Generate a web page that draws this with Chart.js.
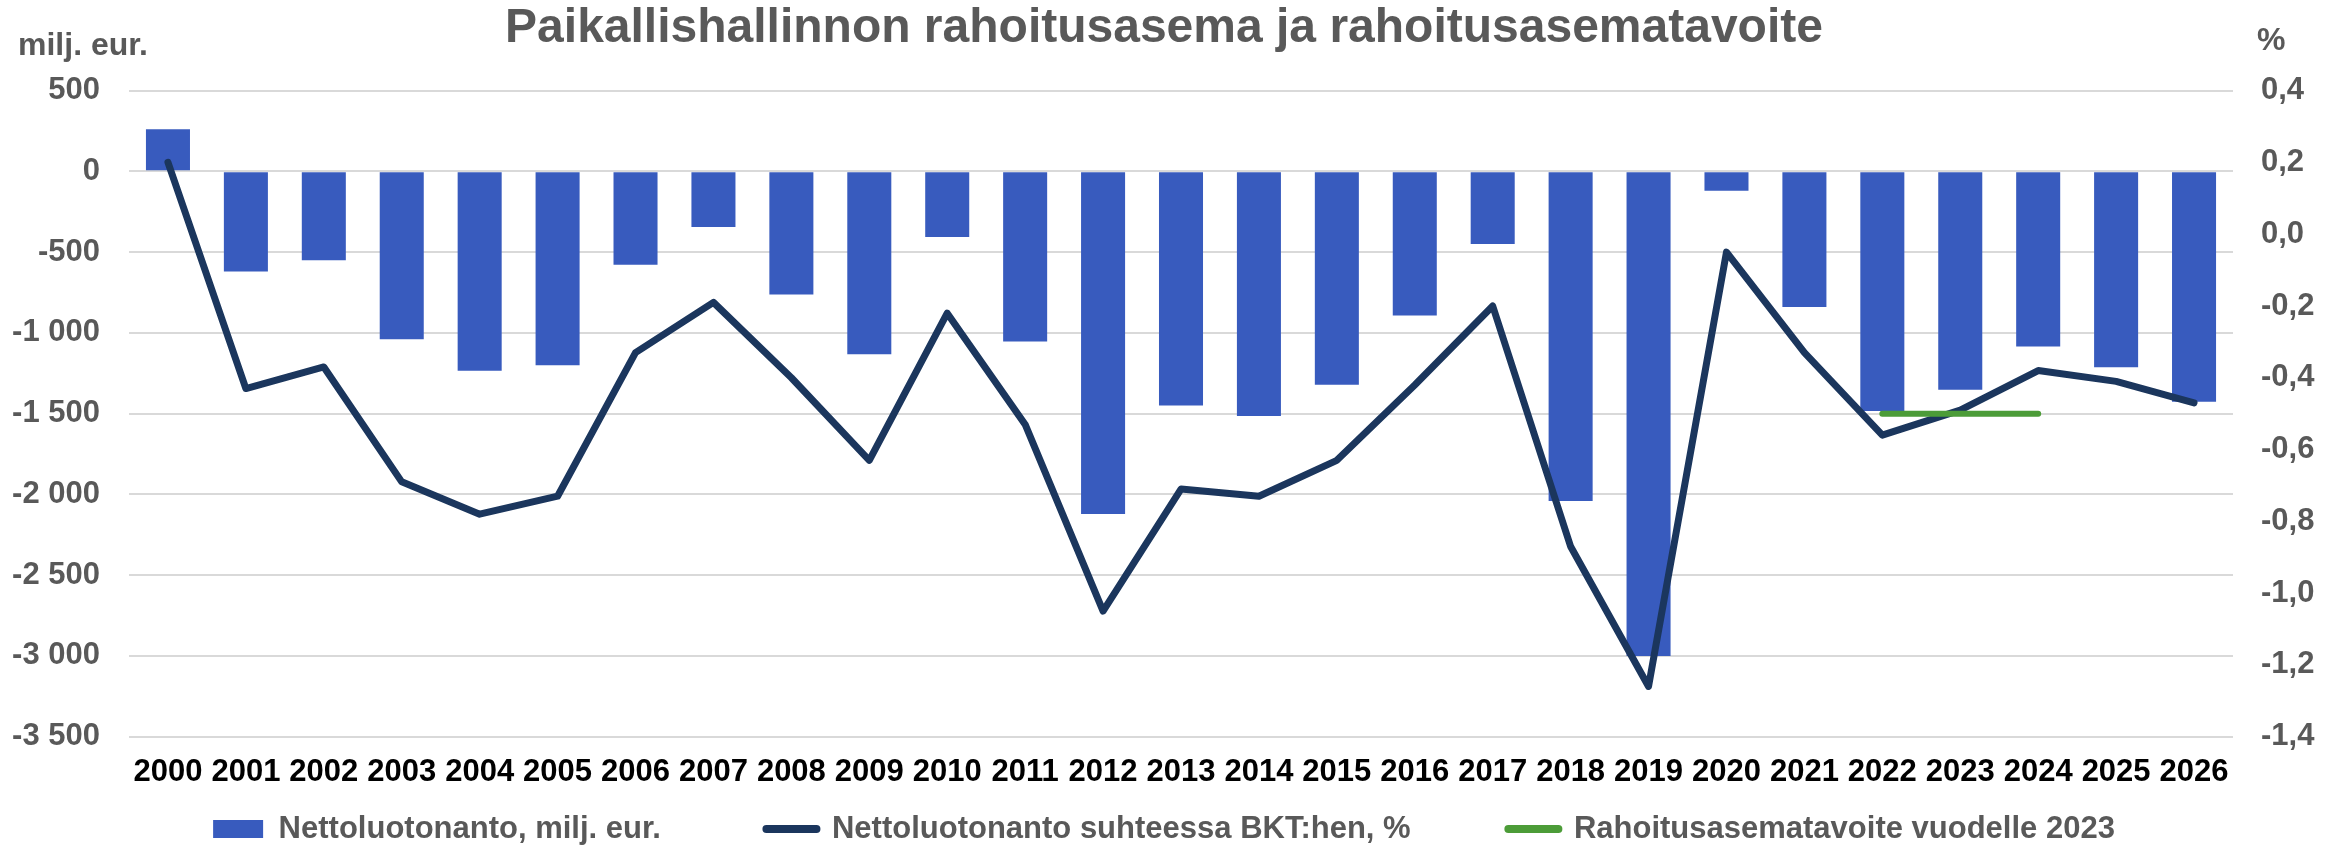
<!DOCTYPE html>
<html>
<head>
<meta charset="utf-8">
<script src="https://cdn.jsdelivr.net/npm/chart.js@4.4.1/dist/chart.umd.min.js"></script>
<style>
  html, body { margin: 0; padding: 0; background: #fff; }
  #wrap { width: 2344px; height: 846px; }
</style>
</head>
<body>
<div id="wrap"><canvas id="chart" width="2344" height="846"></canvas></div>
<script>
// Data
var years = ['2000', '2001', '2002', '2003', '2004', '2005', '2006', '2007', '2008', '2009',
             '2010', '2011', '2012', '2013', '2014', '2015', '2016', '2017', '2018', '2019',
             '2020', '2021', '2022', '2023', '2024', '2025', '2026'];

// Nettoluotonanto, milj. eur. (left axis)
var netLending = [260, -620, -550, -1040, -1235, -1200, -578, -345, -762, -1133,
                  -406, -1054, -2122, -1450, -1515, -1321, -893, -450, -2041, -3000,
                  -120, -840, -1484, -1352, -1085, -1213, -1426];

// Nettoluotonanto suhteessa BKT:hen, % (right axis)
var netLendingPct = [0.20, -0.43, -0.37, -0.69, -0.78, -0.73, -0.33, -0.19, -0.40, -0.63,
                     -0.22, -0.53, -1.05, -0.71, -0.73, -0.63, -0.42, -0.20, -0.87, -1.26,
                     -0.05, -0.33, -0.56, -0.49, -0.38, -0.41, -0.47];

// Rahoitusasematavoite vuodelle 2023 (right axis)
var target = [null, null, null, null, null, null, null, null, null, null,
              null, null, null, null, null, null, null, null, null, null,
              null, null, -0.5, -0.5, -0.5, null, null];

var titleText = 'Paikallishallinnon rahoitusasema ja rahoitusasematavoite';
var leftUnit = 'milj. eur.';
var rightUnit = '%';

var FONT = "'Liberation Sans', Arial, sans-serif";
var GREY = '#595959';
var BLUE = '#385bbe';
var NAVY = '#1b365d';
var GREEN = '#4c9c38';

// extra room after each legend entry (Chart.js only has one padding for both directions)
var legendGaps = ['\u2003\u2003\u2002', '\u2003\u2003\u2005', ''];

function fmtThousands(v) {
    var s = Math.abs(v).toString().replace(/\B(?=(\d{3})+(?!\d))/g, ' ');
    return (v < 0 ? '-' : '') + s;
}

function fmtPct(v) {
    if (Math.abs(v) < 1e-9) v = 0;
    return v.toFixed(1).replace('.', ',');
}

// draws the small unit captions above both value axes
var unitLabels = {
    id: 'unitLabels',
    afterDraw: function(chart) {
        var ctx = chart.ctx;
        ctx.save();
        ctx.font = 'bold 32px ' + FONT;
        ctx.fillStyle = GREY;
        ctx.textAlign = 'left';
        ctx.textBaseline = 'alphabetic';
        ctx.fillText(leftUnit, 18, 55);
        ctx.fillText(rightUnit, chart.scales.y1.left + 24, 50);
        ctx.restore();
    }
};

var tickFont = { family: FONT, size: 31, weight: 'bold' };

new Chart(document.getElementById('chart').getContext('2d'), {
    data: {
        labels: years,
        datasets: [{
            type: 'bar',
            label: 'Nettoluotonanto, milj. eur.',
            data: netLending,
            backgroundColor: BLUE,
            borderColor: BLUE,
            borderWidth: 0,
            categoryPercentage: 1,
            barPercentage: 0.565,
            yAxisID: 'y',
            order: 3
        }, {
            type: 'line',
            label: 'Nettoluotonanto suhteessa BKT:hen, %',
            data: netLendingPct,
            borderColor: NAVY,
            backgroundColor: NAVY,
            borderWidth: 7,
            borderJoinStyle: 'round',
            borderCapStyle: 'round',
            pointRadius: 0,
            tension: 0,
            yAxisID: 'y1',
            order: 2
        }, {
            type: 'line',
            label: 'Rahoitusasematavoite vuodelle 2023',
            data: target,
            borderColor: GREEN,
            backgroundColor: GREEN,
            borderWidth: 6,
            borderCapStyle: 'round',
            pointRadius: 0,
            tension: 0,
            spanGaps: false,
            yAxisID: 'y1',
            order: 1
        }]
    },
    options: {
        responsive: false,
        animation: false,
        devicePixelRatio: 1,
        layout: {
            padding: { top: 0, left: 0, right: 16, bottom: -8.5 }
        },
        plugins: {
            title: {
                display: true,
                text: titleText,
                color: GREY,
                font: { family: FONT, size: 48, weight: 'bold' },
                padding: { top: 0, bottom: 33 }
            },
            legend: {
                position: 'bottom',
                labels: {
                    usePointStyle: true,
                    pointStyleWidth: 50,
                    boxHeight: 18,
                    padding: 28,
                    color: GREY,
                    font: { family: FONT, size: 31, weight: 'bold' },
                    generateLabels: function(chart) {
                        return chart.data.datasets.map(function(ds, i) {
                            var isBar = ds.type === 'bar';
                            return {
                                text: ds.label + legendGaps[i],
                                datasetIndex: i,
                                fillStyle: ds.backgroundColor,
                                strokeStyle: ds.borderColor,
                                lineWidth: isBar ? 0 : 8,
                                lineCap: 'round',
                                pointStyle: isBar ? 'rect' : 'line',
                                fontColor: GREY,
                                hidden: false
                            };
                        });
                    }
                }
            },
            tooltip: { enabled: false }
        },
        scales: {
            x: {
                grid: { display: false, drawTicks: false },
                border: { display: false },
                ticks: {
                    color: '#000',
                    font: tickFont,
                    padding: 17,
                    maxRotation: 0,
                    autoSkip: false
                },
                afterFit: function(scale) { scale.height = 48.8; }
            },
            y: {
                position: 'left',
                min: -3500,
                max: 500,
                grid: { color: '#d9d9d9', lineWidth: 2, drawTicks: false },
                border: { display: false },
                ticks: {
                    stepSize: 500,
                    color: GREY,
                    font: tickFont,
                    padding: 29,
                    callback: fmtThousands
                },
                afterFit: function(scale) { scale.width = 129; }
            },
            y1: {
                position: 'right',
                min: -1.4,
                max: 0.4,
                grid: { display: false, drawTicks: false },
                border: { display: false },
                ticks: {
                    stepSize: 0.2,
                    color: GREY,
                    font: tickFont,
                    padding: 28,
                    callback: fmtPct
                },
                afterFit: function(scale) { scale.width = 95; }
            }
        }
    },
    plugins: [unitLabels]
});
</script>
</body>
</html>
